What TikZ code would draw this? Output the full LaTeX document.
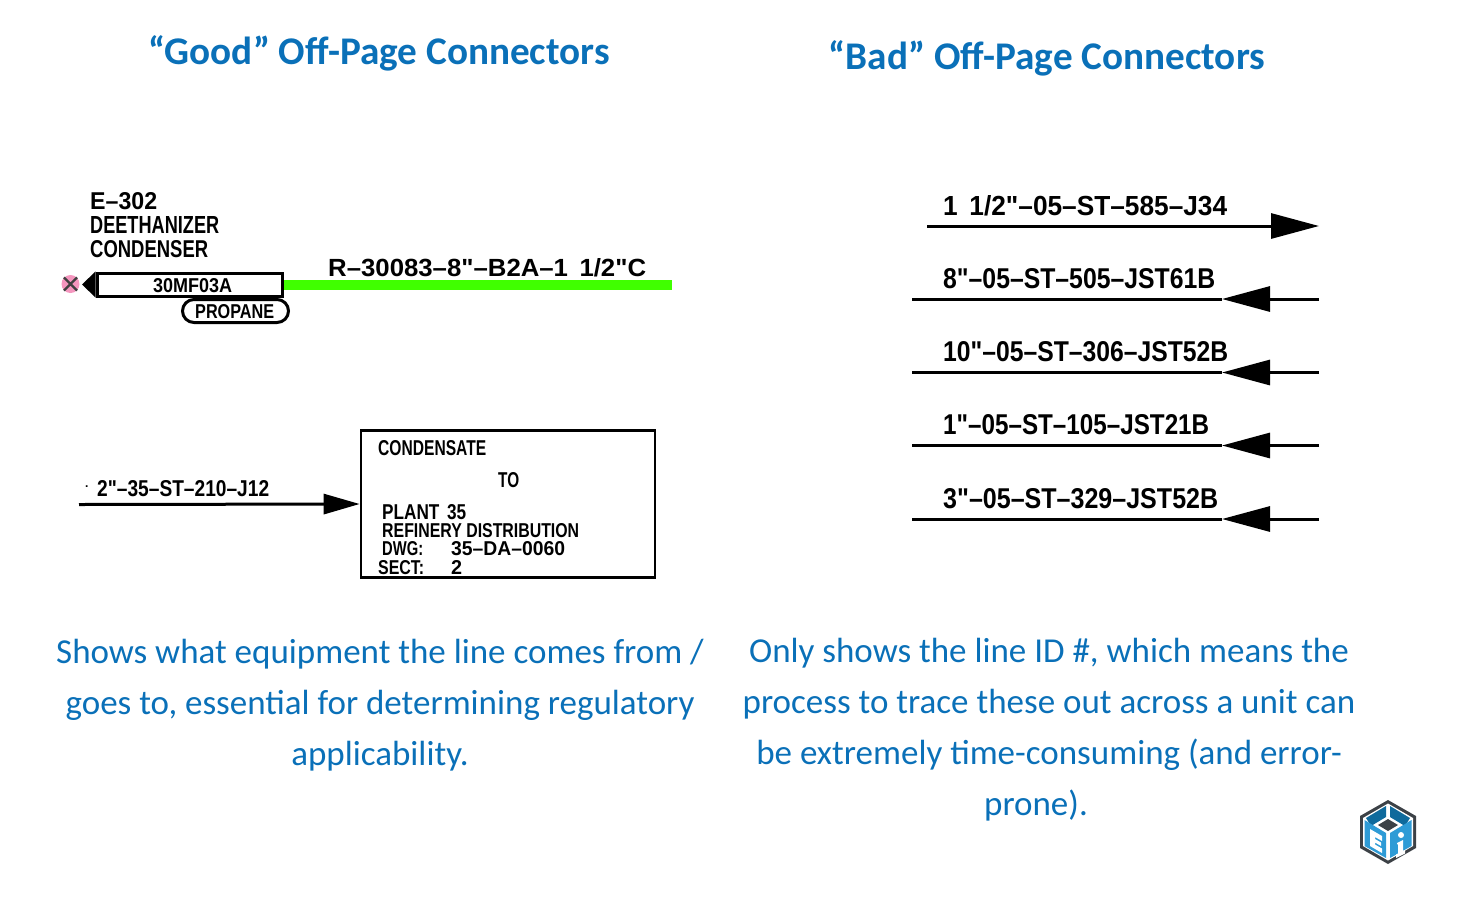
\documentclass[tikz,border=0pt]{standalone}
\usepackage{fontspec}
\usepackage{graphicx}
\usetikzlibrary{arrows.meta,shapes.misc}
\setmainfont{Carlito}
\newfontfamily\cadfont{Liberation Sans Bold}
\definecolor{eiblue}{HTML}{0A70B8}
\definecolor{logoblue}{HTML}{2E9BD6}
\definecolor{logodark}{HTML}{0F6A9C}
\definecolor{logogray}{HTML}{3C4146}
\definecolor{pipegreen}{HTML}{40FF00}
\newcommand{\cadfit}[3]{\resizebox{#1pt}{#2pt}{\fontsize{20}{20}\selectfont\cadfont #3}}
\tikzset{
  title/.style={anchor=base,text=eiblue,font=\fontsize{39.2}{39.2}\selectfont\bfseries,inner sep=0},
  body/.style={anchor=base,text=eiblue,font=\fontsize{35}{51}\selectfont,inner sep=0},
  cad/.style={anchor=base west,text=black,inner sep=0},
  pipe/.style={draw=black,line width=3pt},
  tip/.style={-{Triangle[length=48pt,width=25pt,sep=0pt]}},
  tipsmall/.style={-{Triangle[length=36pt,width=20pt,sep=0pt]}},
}
\begin{document}
\begin{tikzpicture}[x=1pt,y=-1pt]
\useasboundingbox (0,0) rectangle (1471,911);
% titles
\node[title] (t1) at (379,64) {“Good” Off-Page Connectors};
\node[title] (t2) at (1047,69) {“Bad” Off-Page Connectors};
% left top
\node[cad] (e1) at (90,209) {\cadfit{67}{17}{E–302}};
\node[cad] (e2) at (90,233) {\cadfit{129}{17}{DEETHANIZER}};
\node[cad] (e3) at (90,257) {\cadfit{118}{17}{CONDENSER}};
\node[cad] (rl) at (328,276) {\cadfit{318}{18}{R–30083–8"–B2A–1\, 1/2"C}};
\coordinate (gs) at (282,284.5);
\coordinate (ge) at (672,284.5);
\draw[draw=pipegreen,line width=10pt] (gs) -- (ge);
\node[draw=black,line width=3pt,fill=white,minimum width=185pt,minimum height=23pt,inner sep=0,anchor=center] (tag) at (189.5,284.5) {};
\node[cad] (tagt) at (153,292) {\cadfit{79}{14}{30MF03A}};
\fill[black] (tag.north west) -- (82,284.5) -- (tag.south west) -- cycle;
\node[draw=black,line width=3pt,fill=white,rounded rectangle,minimum width=106pt,minimum height=23pt,inner sep=0] (prop) at (235.5,311) {};
\node[cad] (propt) at (195,318) {\cadfit{79}{14}{PROPANE}};
\node[circle,fill={rgb,255:red,244;green,150;blue,190},minimum size=18pt,inner sep=0] (mark) at (70.5,284) {};
\draw[black!75,line width=2.4pt] (mark.north west) -- (mark.south east) (mark.north east) -- (mark.south west);
% left lower
\node[cad] (dot) at (85,487) {\fontsize{12}{12}\selectfont\cadfont .};
\node[cad] (l2) at (97,496) {\cadfit{172}{16}{2"–35–ST–210–J12}};
\node[draw=black,line width=2.6pt,minimum width=294pt,minimum height=147pt,inner sep=0] (box) at (508,504) {};
\coordinate (ls) at (79,504.5);
\draw[pipe,tipsmall] (ls) -- (box.west);
\node[cad] (b1) at (378,455) {\cadfit{108}{15}{CONDENSATE}};
\node[cad] (b2) at (498,487) {\cadfit{21}{15}{TO}};
\node[cad] (b3) at (382,519) {\cadfit{84}{15}{PLANT\, 35}};
\node[cad] (b4) at (382,537) {\cadfit{197}{14}{REFINERY DISTRIBUTION}};
\node[cad] (b5) at (382,555.5) {\cadfit{41}{14}{DWG:}};
\node[cad] (b5b) at (451,555.5) {\cadfit{114}{14}{35–DA–0060}};
\node[cad] (b6) at (378,574) {\cadfit{46}{14}{SECT:}};
\node[cad] (b6b) at (451,574) {\cadfit{11}{14}{2}};
% right arrows
\node[cad] (r1) at (943,215) {\cadfit{284}{20}{1\, 1/2"–05–ST–585–J34}};
\node[cad] (r2) at (943,288) {\cadfit{272}{20}{8"–05–ST–505–JST61B}};
\node[cad] (r3) at (943,361) {\cadfit{285}{20}{10"–05–ST–306–JST52B}};
\node[cad] (r4) at (943,434) {\cadfit{266}{20}{1"–05–ST–105–JST21B}};
\node[cad] (r5) at (943,508) {\cadfit{275}{20}{3"–05–ST–329–JST52B}};
\coordinate (a1s) at (927,226); \coordinate (a1e) at (1319,226);
\draw[pipe,tip] (a1s) -- (a1e);
\foreach \n/\y in {2/299,3/372.5,4/445.5,5/519}{
  \coordinate (a\n r) at (1319,\y);
  \coordinate (a\n t) at (1222,\y);
  \coordinate (a\n l) at (912,\y);
  \draw[pipe] (a\n t) -- (a\n l);
  \draw[pipe,tip] (a\n r) -- (a\n t);
}
% body text
\node[body] (p1a) at (380,663) {Shows what equipment the line comes from /};
\node[body] (p1b) at (380,714) {goes to, essential for determining regulatory};
\node[body] (p1c) at (380,765) {applicability.};
\node[body] (p2a) at (1049,662) {Only shows the line ID \#, which means the};
\node[body] (p2b) at (1049,713) {process to trace these out across a unit can};
\node[body] (p2c) at (1049,764) {be extremely time-consuming (and error-};
\node[body] (p2d) at (1036,815) {prone).};
% logo
\begin{scope}[shift={(1388,832)}]
  \fill[logogray] (0,-32) -- (28,-16) -- (28,16) -- (0,32) -- (-28,16) -- (-28,-16) -- cycle;
  \fill[white] (0,-28.5) -- (25,-14) -- (25,14) -- (0,28.5) -- (-25,14) -- (-25,-14) -- cycle;
  \fill[logodark] (-2,-26) -- (-2,-15) -- (-17,-6) -- (-22,-14) -- cycle;
  \fill[logodark] (2,-26) -- (2,-15) -- (17,-6) -- (22,-14) -- cycle;
  \fill[logogray] (0,-13) -- (10,-7) -- (0,-1) -- (-10,-7) -- cycle;
  \fill[logoblue] (-23.5,-12) -- (-2,1) -- (-2,26) -- (-23.5,14) -- cycle;
  \fill[logoblue] (23.5,-12) -- (2,1) -- (2,26) -- (23.5,14) -- cycle;
  \fill[white] (-18,-3) -- (-6,4) -- (-6,9) -- (-13,5) -- (-13,7) -- (-7,10.5) -- (-7,14) -- (-13,10.5) -- (-13,12.5) -- (-6,16.5) -- (-6,21) -- (-18,14) -- cycle;
  \fill[white] (13,3) circle (3);
  \fill[white] (9,11) -- (15,8) -- (15,19) -- (17,18) -- (17,21.5) -- (8,26) -- (8,22.5) -- (10,21.5) -- (10,12) -- (9,12.5) -- cycle;
\end{scope}
\end{tikzpicture}
\end{document}
